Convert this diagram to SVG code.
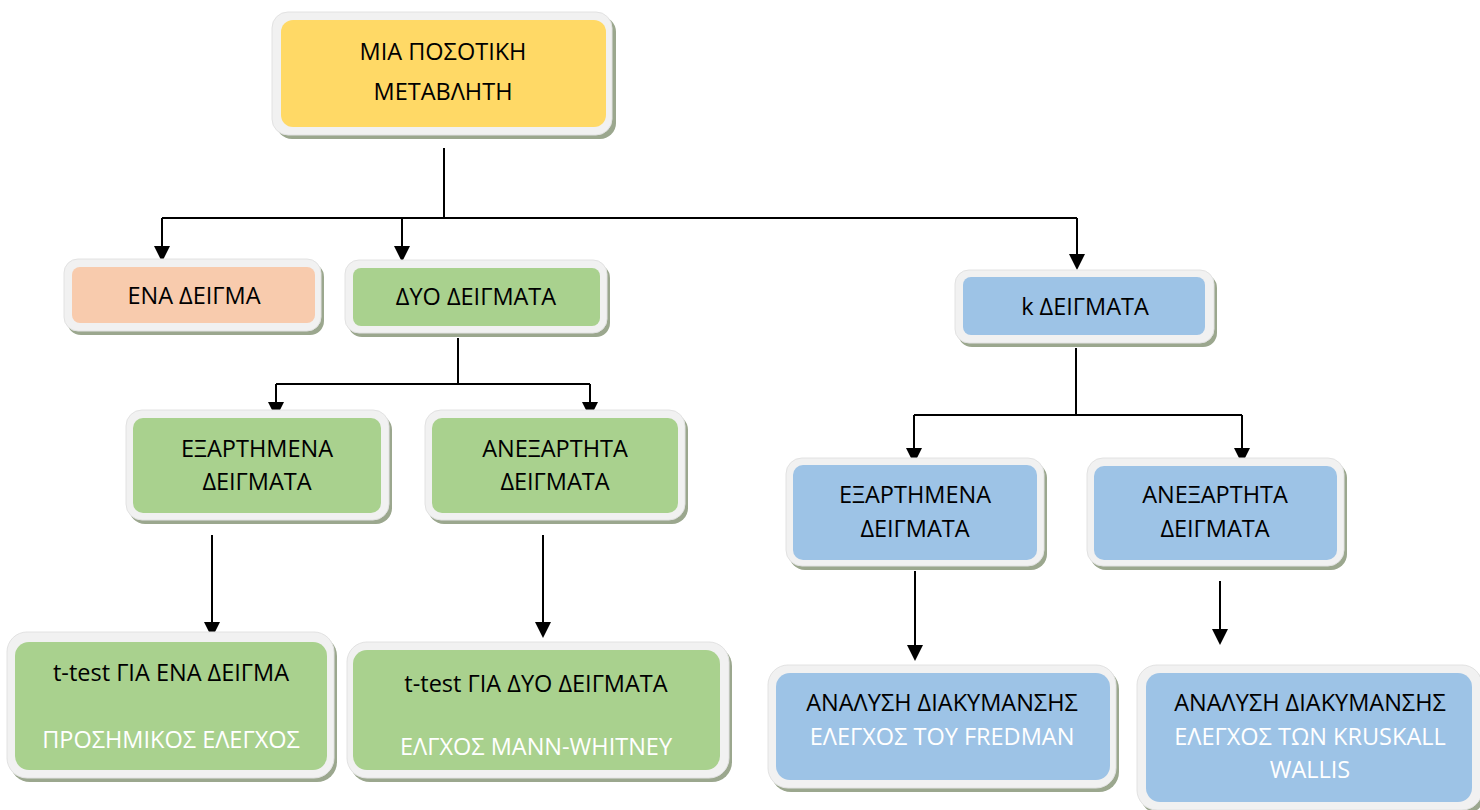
<svg xmlns="http://www.w3.org/2000/svg" width="1480" height="810" viewBox="0 0 1480 810">
<defs>
<style>
.sh{fill:#9ba78e}
.fr{fill:#f1f1f1;stroke:#e2e2e2;stroke-width:1}
.t{font-family:"Open Sans","Noto Sans","DejaVu Sans",sans-serif;font-size:23.5px;text-anchor:middle;fill:#000}
.w{fill:#ffffff}
.c{fill:none;stroke:#000;stroke-width:2}
.yel{fill:#ffd966}.sal{fill:#f8cbad}.grn{fill:#a9d18e}.blu{fill:#9dc3e6}
</style>
</defs>
<rect width="1480" height="810" fill="#fff"/>

<g id="connectors">
<path class="c" d="M444,148 V218 M162,218 H1077"/>
<path class="c" d="M162,218 V247"/><path d="M154,246 L170,246 L162,262 Z"/>
<path class="c" d="M402,218 V247"/><path d="M394,246 L410,246 L402,262 Z"/>
<path class="c" d="M1077,218 V255"/><path d="M1069,254 L1085,254 L1077,270 Z"/>
<path class="c" d="M458,338 V384 M276,384 H590"/>
<path class="c" d="M276,384 V403"/><path d="M268,402 L284,402 L276,418 Z"/>
<path class="c" d="M590,384 V403"/><path d="M582,402 L598,402 L590,418 Z"/>
<path class="c" d="M1076,348 V415 M914,415 H1242"/>
<path class="c" d="M914,415 V449"/><path d="M906,448 L922,448 L914,464 Z"/>
<path class="c" d="M1242,415 V449"/><path d="M1234,448 L1250,448 L1242,464 Z"/>
<path class="c" d="M212,535 V623"/><path d="M204,622 L220,622 L212,638 Z"/>
<path class="c" d="M543,535 V623"/><path d="M535,622 L551,622 L543,638 Z"/>
<path class="c" d="M915,571 V646"/><path d="M907,645 L923,645 L915,661 Z"/>
<path class="c" d="M1220,581 V630"/><path d="M1212,629 L1228,629 L1220,645 Z"/>
</g>

<g id="n-top">
<rect class="sh" x="276" y="16" width="340" height="123" rx="16"/>
<rect class="fr" x="272" y="12" width="340" height="123" rx="16"/>
<rect class="yel" x="281" y="20" width="325" height="107" rx="12"/>
<text class="t" x="443" y="60">ΜΙΑ ΠΟΣΟΤΙΚΗ</text>
<text class="t" x="443" y="100">ΜΕΤΑΒΛΗΤΗ</text>
</g>

<g id="n-ena">
<rect class="sh" x="67" y="263" width="257" height="72" rx="14"/>
<rect class="fr" x="64" y="259" width="257" height="72" rx="14"/>
<rect class="sal" x="72" y="267" width="243" height="56" rx="8"/>
<text class="t" x="194" y="304">ΕΝΑ ΔΕΙΓΜΑ</text>
</g>

<g id="n-dyo">
<rect class="sh" x="348" y="264" width="262" height="73" rx="14"/>
<rect class="fr" x="345" y="260" width="262" height="73" rx="14"/>
<rect class="grn" x="353" y="268" width="247" height="58" rx="8"/>
<text class="t" x="476" y="305">ΔΥΟ ΔΕΙΓΜΑΤΑ</text>
</g>

<g id="n-k">
<rect class="sh" x="958" y="274" width="259" height="73" rx="14"/>
<rect class="fr" x="955" y="270" width="259" height="73" rx="14"/>
<rect class="blu" x="963" y="277" width="242" height="58" rx="8"/>
<text class="t" x="1085" y="315">k ΔΕΙΓΜΑΤΑ</text>
</g>

<g id="n-exart-2">
<rect class="sh" x="129" y="414" width="263" height="110" rx="16"/>
<rect class="fr" x="126" y="410" width="263" height="110" rx="16"/>
<rect class="grn" x="133" y="418" width="248" height="95" rx="10"/>
<text class="t" x="257" y="457">ΕΞΑΡΤΗΜΕΝΑ</text>
<text class="t" x="257" y="490">ΔΕΙΓΜΑΤΑ</text>
</g>

<g id="n-anex-2">
<rect class="sh" x="428" y="414" width="260" height="110" rx="16"/>
<rect class="fr" x="425" y="410" width="260" height="110" rx="16"/>
<rect class="grn" x="432" y="418" width="246" height="95" rx="10"/>
<text class="t" x="555" y="457">ΑΝΕΞΑΡΤΗΤΑ</text>
<text class="t" x="555" y="490">ΔΕΙΓΜΑΤΑ</text>
</g>

<g id="n-exart-k">
<rect class="sh" x="789" y="462" width="258" height="108" rx="16"/>
<rect class="fr" x="786" y="458" width="258" height="108" rx="16"/>
<rect class="blu" x="793" y="465" width="244" height="95" rx="10"/>
<text class="t" x="915" y="503">ΕΞΑΡΤΗΜΕΝΑ</text>
<text class="t" x="915" y="537">ΔΕΙΓΜΑΤΑ</text>
</g>

<g id="n-anex-k">
<rect class="sh" x="1090" y="462" width="257" height="108" rx="16"/>
<rect class="fr" x="1087" y="458" width="257" height="108" rx="16"/>
<rect class="blu" x="1094" y="466" width="243" height="94" rx="10"/>
<text class="t" x="1215" y="503">ΑΝΕΞΑΡΤΗΤΑ</text>
<text class="t" x="1215" y="537">ΔΕΙΓΜΑΤΑ</text>
</g>

<g id="n-ttest1">
<rect class="sh" x="10" y="636" width="327" height="146" rx="20"/>
<rect class="fr" x="7" y="632" width="327" height="146" rx="20"/>
<rect class="grn" x="15" y="642" width="312" height="128" rx="14"/>
<text class="t" x="171" y="681">t-test ΓΙΑ ΕΝΑ ΔΕΙΓΜΑ</text>
<text class="t w" x="171" y="748">ΠΡΟΣΗΜΙΚΟΣ ΕΛΕΓΧΟΣ</text>
</g>

<g id="n-ttest2">
<rect class="sh" x="350" y="646" width="382" height="136" rx="20"/>
<rect class="fr" x="347" y="642" width="382" height="136" rx="20"/>
<rect class="grn" x="353" y="650" width="367" height="120" rx="14"/>
<text class="t" x="536" y="692">t-test ΓΙΑ ΔΥΟ ΔΕΙΓΜΑΤΑ</text>
<text class="t w" x="536" y="755">ΕΛΓΧΟΣ ΜΑΝΝ-WHITNEY</text>
</g>

<g id="n-fredman">
<rect class="sh" x="771" y="669" width="348" height="123" rx="20"/>
<rect class="fr" x="768" y="665" width="348" height="123" rx="20"/>
<rect class="blu" x="776" y="673" width="334" height="107" rx="14"/>
<text class="t" x="942" y="711">ΑΝΑΛΥΣΗ ΔΙΑΚΥΜΑΝΣΗΣ</text>
<text class="t w" x="942" y="745">ΕΛΕΓΧΟΣ ΤΟΥ FREDMAN</text>
</g>

<g id="n-kruskall">
<rect class="sh" x="1140" y="669" width="345" height="145" rx="20"/>
<rect class="fr" x="1137" y="665" width="345" height="145" rx="20"/>
<rect class="blu" x="1146" y="673" width="326" height="129" rx="14"/>
<text class="t" x="1310" y="711">ΑΝΑΛΥΣΗ ΔΙΑΚΥΜΑΝΣΗΣ</text>
<text class="t w" x="1310" y="745">ΕΛΕΓΧΟΣ ΤΩΝ KRUSKALL</text>
<text class="t w" x="1310" y="778">WALLIS</text>
</g>
</svg>
